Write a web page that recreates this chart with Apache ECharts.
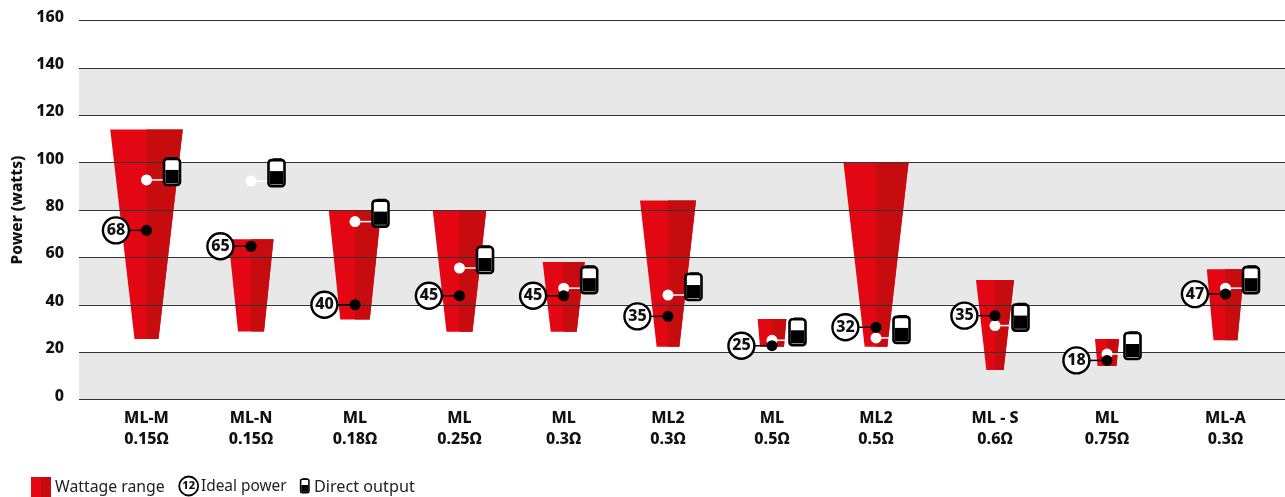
<!DOCTYPE html>
<html>
<head>
<meta charset="utf-8">
<style>html,body{margin:0;padding:0;background:#fff}#c{width:1285px;height:497px}</style>
<script src="https://cdn.jsdelivr.net/npm/echarts@6/dist/echarts.min.js"></script>
</head>
<body>
<div id="c"></div>
<script>
// ---- data ----
const coils = ['ML-M','ML-N','ML','ML','ML','ML2','ML','ML2','ML - S','ML','ML-A'];
const resistances = ['0.15Ω','0.15Ω','0.18Ω','0.25Ω','0.3Ω','0.3Ω','0.5Ω','0.5Ω','0.6Ω','0.75Ω','0.3Ω'];
const rangeHigh = [114,67.7,80,80,58,84,34,100,50.5,25.5,55];
const rangeLow = [25.5,28.7,33.8,28.6,28.6,22.3,22.3,22.3,12.5,14.1,25];
const idealLabels = ['68','65','40','45','45','35','25','32','35','18','47'];
const idealLevel = [71.4,64.7,40,43.8,43.8,35.1,22.7,30.5,35.4,16.5,44.5];
const directOutput = [92.7,92.2,75.1,55.5,47,44.1,25,26,31.2,19.2,47];

// ---- layout (the coils are unevenly spaced along the axis) ----
const slots = [67.5,172,276,380.5,484.7,589,693,797,916,1028,1146.5];
const topWidths = [72.5,45,52.5,53.6,42,56,28.7,65,38,24,37.4];
const bottomWidths = [24,26,29.5,26,26,22.7,24,22.7,17.3,19,24];
const RED = '#e30613', DARK = '#c60c0f';
const FONT = '"Noto Sans", sans-serif';

function battery(x, y, s) {
  // x,y: where the connector meets the icon's charge level
  return [
    {type:'rect', shape:{x:x+s*5.2, y:y-s*22.8, width:s*9.6, height:s*2, r:s*0.8}, style:{fill:'#000'}},
    {type:'rect', shape:{x:x+s*1.2, y:y-s*21, width:s*16, height:s*26, r:s*3}, style:{fill:'#fff', stroke:'#000', lineWidth:2.6*Math.max(s,0.6)}},
    {type:'rect', shape:{x:x+s*2.6, y:y-s*10, width:s*13.2, height:s*13.2}, style:{fill:'#000'}}
  ];
}

const option = {
  animation:false,
  textStyle:{fontFamily:FONT},
  grid:{left:79, right:0, top:20.5, height:379, containLabel:false, outerBoundsMode:'none'},
  xAxis:{
    type:'value', min:0, max:1206,
    axisLine:{show:false}, axisTick:{show:false}, splitLine:{show:false},
    axisLabel:{
      customValues:slots, margin:8, hideOverlap:false,
      fontFamily:FONT, fontWeight:800, fontSize:16, lineHeight:21, color:'#111',
      formatter:v=>{const i=slots.indexOf(v); return coils[i]+'\n'+resistances[i];}
    }
  },
  yAxis:[
    {
      type:'value', min:0, max:160, interval:20,
      name:'Power (watts)', nameLocation:'middle', nameGap:53, nameRotate:90,
      nameTextStyle:{fontFamily:FONT, fontWeight:800, fontSize:15.5, color:'#111'},
      axisLine:{show:false}, axisTick:{show:false},
      splitLine:{show:false},
      splitArea:{show:true, areaStyle:{color:['#e8e8e8','#ffffff']}},
      axisLabel:{margin:15, fontFamily:FONT, fontWeight:800, fontSize:16, color:'#111', verticalAlign:'bottom', lineHeight:7}
    },
    {
      type:'value', min:0, max:160, interval:20, position:'left', z:3,
      axisLine:{show:false}, axisTick:{show:false}, axisLabel:{show:false},
      splitArea:{show:false},
      splitLine:{show:true, lineStyle:{color:'#333', width:1.2}}
    }
  ],
  series:[
    {
      name:'Wattage range', type:'custom', z:2, yAxisIndex:0,
      data:slots.map((x,i)=>[x,rangeHigh[i],rangeLow[i]]),
      renderItem:(p,api)=>{
        const i=p.dataIndex, a=api.coord([api.value(0),api.value(1)]), b=api.coord([api.value(0),api.value(2)]);
        const t=topWidths[i]/2, w=bottomWidths[i]/2, c=a[0];
        return {type:'group', children:[
          {type:'polygon', shape:{points:[[c-t,a[1]],[c+t,a[1]],[c+w,b[1]],[c-w,b[1]]]}, style:{fill:RED}},
          {type:'polygon', shape:{points:[[c,a[1]],[c+t,a[1]],[c+w,b[1]],[c,b[1]]]}, style:{fill:DARK}}
        ]};
      }
    },
    {
      name:'Direct output', type:'custom', z:5, yAxisIndex:0,
      data:slots.map((x,i)=>[x,directOutput[i]]),
      renderItem:(p,api)=>{
        const q=api.coord([api.value(0),api.value(1)]), x=q[0], y=q[1];
        return {type:'group', children:[
          {type:'line', shape:{x1:x,y1:y,x2:x+18,y2:y}, style:{stroke:'#fff',lineWidth:1.5}},
          {type:'circle', shape:{cx:x,cy:y,r:5.5}, style:{fill:'#fff'}}
        ].concat(battery(x+16.3,y,1))};
      }
    },
    {
      name:'Ideal power', type:'custom', z:6, yAxisIndex:0,
      data:slots.map((x,i)=>[x,idealLevel[i]]),
      renderItem:(p,api)=>{
        const q=api.coord([api.value(0),api.value(1)]), x=q[0], y=q[1], cx=x-30.6;
        return {type:'group', children:[
          {type:'line', shape:{x1:cx,y1:y,x2:x,y2:y}, style:{stroke:'#000',lineWidth:1.5}},
          {type:'circle', shape:{cx:cx,cy:y,r:13}, style:{fill:'#fff',stroke:'#000',lineWidth:2.4}},
          {type:'text', style:{text:idealLabels[p.dataIndex], x:cx, y:y, align:'center', verticalAlign:'middle',
            fontFamily:FONT, fontWeight:800, fontSize:16, fill:'#111'}},
          {type:'circle', shape:{cx:x,cy:y,r:5.5}, style:{fill:'#000'}}
        ]};
      }
    }
  ],
  graphic:[
    {type:'rect', shape:{x:31,y:477,width:10,height:20}, style:{fill:RED}},
    {type:'rect', shape:{x:41,y:477,width:10,height:20}, style:{fill:DARK}},
    {type:'text', style:{text:'Wattage range', x:55, y:487, verticalAlign:'middle', fontFamily:FONT, fontSize:15.8, fill:'#222'}},
    {type:'circle', shape:{cx:188.7,cy:486,r:9.5}, style:{fill:'#fff',stroke:'#000',lineWidth:1.8}},
    {type:'text', style:{text:'12', x:188.7, y:486, align:'center', verticalAlign:'middle', fontFamily:FONT, fontWeight:800, fontSize:11, fill:'#111'}},
    {type:'text', style:{text:'Ideal power', x:201, y:487, verticalAlign:'middle', fontFamily:FONT, fontSize:15.4, fill:'#222'}},
    {type:'group', children:battery(300,490.2,0.52)},
    {type:'text', style:{text:'Direct output', x:314, y:487, verticalAlign:'middle', fontFamily:FONT, fontSize:16.2, fill:'#222'}}
  ]
};
echarts.init(document.getElementById('c'),null,{renderer:'canvas'}).setOption(option);
</script>
</body>
</html>
